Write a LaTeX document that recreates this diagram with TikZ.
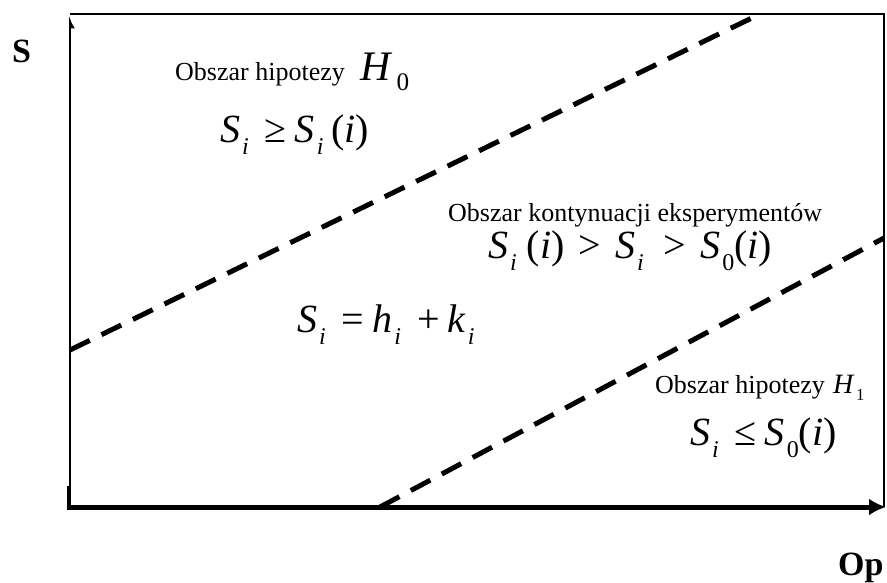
\documentclass[tikz,border=0pt]{standalone}
\usepackage{graphicx}
\usepackage{fontspec}
\setmainfont{Liberation Serif}
\usetikzlibrary{arrows.meta}

% lowered index in formulas
\newcommand{\idx}[1]{\hspace{0.05em}\raisebox{-0.32em}{\scalebox{0.6}{#1}}}

\tikzset{
  region/.style={font=\rmfamily\fontsize{26}{30}\selectfont, anchor=base west, inner sep=0pt},
  formula/.style={font=\rmfamily\fontsize{40}{44}\selectfont, anchor=base west, inner sep=0pt},
  axislabel/.style={font=\rmfamily\bfseries\fontsize{34}{38}\selectfont, anchor=base west, inner sep=0pt},
  frame/.style={line width=1.6pt},
  axis/.style={line width=5pt},
  boundary/.style={line width=5pt, dash pattern=on 22pt off 13pt},
}

\begin{document}
\begin{tikzpicture}[x=1pt,y=-1pt]
  \useasboundingbox (0,0) rectangle (887,582);
  % ramka
  \draw[frame] (70,14) -- (884,14) -- (884,507);
  % osie
  \draw[frame, -{Latex[harpoon,swap,length=10pt,width=10pt]}] (70,507) -- (70,16);
  \draw[line width=4pt] (68.5,486) -- (68.5,507);
  \draw[axis, -{Latex[length=17pt,width=17pt]}] (67,507) -- (886,507);
  \node[axislabel] (ylab) at (12,62) {S};
  \node[axislabel] (xlab) at (838,575) {Op};
  % granice obszarow
  \coordinate (upA) at (70,350);
  \coordinate (upB) at (760,14);
  \coordinate (loA) at (380,507);
  \coordinate (loB) at (884,238);
  \draw[boundary] (upA) -- (upB);
  \draw[boundary] (loA) -- (loB);
  % obszar H0
  \node[region] (h0txt) at (175,80) {Obszar hipotezy};
  \node[formula, font=\rmfamily\fontsize{42}{46}\selectfont] (h0sym) at (360,80) {\textit{H}\hspace{0.1em}\raisebox{-0.25em}{\scalebox{0.6}{0}}};
  \node[formula] (h0rule) at (220,142) {\textit{S}\idx{\textit{i}}\hspace{0.4em}≥\hspace{0.2em}\textit{S}\idx{\textit{i}}\hspace{0.2em}(\textit{i})};
  % obszar kontynuacji
  \node[region] (ctxt) at (448,221) {Obszar kontynuacji eksperymentów};
  \node[formula] (crule) at (488,258) {\textit{S}\idx{\textit{i}}\hspace{0.25em}(\textit{i})\hspace{0.35em}>\hspace{0.35em}\textit{S}\idx{\textit{i}}\hspace{0.5em}>\hspace{0.35em}\textit{S}\idx{0}(\textit{i})};
  \node[formula] (seq) at (297,332) {\textit{S}\idx{\textit{i}}\hspace{0.4em}=\hspace{0.2em}\textit{h}\idx{\textit{i}}\hspace{0.4em}+\hspace{0.2em}\textit{k}\idx{\textit{i}}};
  % obszar H1
  \node[region] (h1txt) at (655,393) {Obszar hipotezy};
  \node[formula, font=\rmfamily\fontsize{28}{32}\selectfont] (h1sym) at (833,393) {\textit{H}\hspace{0.05em}\raisebox{-0.25em}{\scalebox{0.6}{1}}};
  \node[formula] (h1rule) at (690,445) {\textit{S}\idx{\textit{i}}\hspace{0.4em}≤\hspace{0.2em}\textit{S}\idx{0}(\textit{i})};
\end{tikzpicture}
\end{document}
